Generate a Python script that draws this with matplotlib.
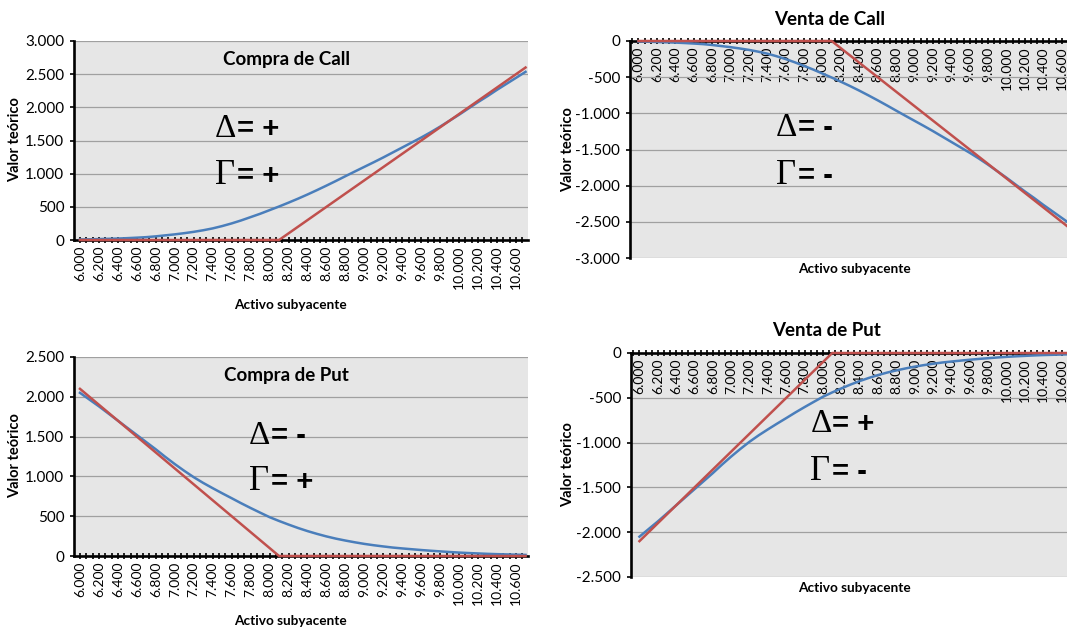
import numpy as np
import matplotlib.pyplot as plt
from matplotlib.ticker import FixedLocator, FuncFormatter

# --------------------------------------------------
# DATOS: precio del activo subyacente (categorias)
# --------------------------------------------------
subyacente = [6000, 6100, 6200, 6300, 6400, 6500, 6600, 6700, 6800, 6900,
              7000, 7100, 7200, 7300, 7400, 7500, 7600, 7700, 7800, 7900,
              8000, 8100, 8200, 8300, 8400, 8500, 8600, 8700, 8800, 8900,
              9000, 9100, 9200, 9300, 9400, 9500, 9600, 9700, 9800, 9900,
              10000, 10100, 10200, 10300, 10400, 10500, 10600, 10700]

# valor teorico de la call (curva azul)
call_teorico = [8, 10, 14, 18, 22, 28, 35, 43, 55, 70,
                85, 103, 123, 147, 175, 210, 250, 295, 345, 395,
                450, 505, 563, 623, 686, 752, 820, 890, 962, 1033,
                1103, 1173, 1245, 1320, 1395, 1470, 1545, 1625, 1710, 1800,
                1890, 1985, 2080, 2170, 2265, 2355, 2445, 2535]

# valor al vencimiento de la call (linea roja)
call_vto = [0, 0, 0, 0, 0, 0, 0, 0, 0, 0,
            0, 0, 0, 0, 0, 0, 0, 0, 0, 0,
            0, 0, 100, 200, 300, 400, 500, 600, 700, 800,
            900, 1000, 1100, 1200, 1300, 1400, 1500, 1600, 1700, 1800,
            1900, 2000, 2100, 2200, 2300, 2400, 2500, 2600]

# valor teorico de la put (curva azul)
put_teorico = [2050, 1965, 1880, 1790, 1700, 1610, 1520, 1430, 1340, 1245,
               1155, 1070, 990, 918, 852, 788, 726, 663, 603, 545,
               488, 440, 395, 352, 313, 278, 246, 218, 194, 172,
               152, 135, 120, 106, 95, 85, 75, 66, 58, 50,
               43, 37, 32, 27, 23, 20, 17, 14]

# valor al vencimiento de la put (linea roja)
put_vto = [2100, 2000, 1900, 1800, 1700, 1600, 1500, 1400, 1300, 1200,
           1100, 1000, 900, 800, 700, 600, 500, 400, 300, 200,
           100, 0, 0, 0, 0, 0, 0, 0, 0, 0,
           0, 0, 0, 0, 0, 0, 0, 0, 0, 0,
           0, 0, 0, 0, 0, 0, 0, 0]

etiquetas_x = [6000, 6200, 6400, 6600, 6800, 7000, 7200, 7400, 7600, 7800,
               8000, 8200, 8400, 8600, 8800, 9000, 9200, 9400, 9600, 9800,
               10000, 10200, 10400, 10600]

AZUL = '#4a7ebb'
ROJO = '#c0504d'
FONDO = '#e6e6e6'
FUENTE = 'Lato'


def miles(v, pos=None):
    return f"{v:,.0f}".replace(',', '.')


fig = plt.figure(figsize=(10.67, 6.3), dpi=100)
W, H = 1067, 630


def caja(x0, x1, ytop, ybot):
    return [x0 / W, (H - ybot) / H, (x1 - x0) / W, (ybot - ytop) / H]


def grafico(rect, xlim, ylim, yticks, azul, rojo, arriba):
    ax = fig.add_axes(rect)
    ax.set_facecolor(FONDO)
    ax.set_xlim(*xlim)
    ax.set_ylim(*ylim)
    ax.set_yticks(yticks)
    ax.yaxis.set_major_formatter(FuncFormatter(miles))
    ax.yaxis.grid(True, color='#a0a0a0', lw=0.9)
    ax.set_axisbelow(True)

    ax.xaxis.set_major_locator(FixedLocator(etiquetas_x))
    ax.xaxis.set_major_formatter(FuncFormatter(miles))
    ax.xaxis.set_minor_locator(FixedLocator(np.arange(6000 - 200 / 3, 10740, 200 / 3)))

    for s in ['top', 'right']:
        ax.spines[s].set_visible(False)
    for s in ['left', 'bottom']:
        ax.spines[s].set_linewidth(1.9)
        ax.spines[s].set_color('black')
    if arriba:
        ax.spines['bottom'].set_position(('data', 0))

    ax.tick_params(axis='x', which='both', direction='inout', length=5,
                   width=1.2, color='black', pad=1.5)
    ax.tick_params(axis='x', which='major', labelrotation=90, labelsize=10)
    ax.tick_params(axis='y', direction='out', length=3, width=1.2,
                   pad=4, labelsize=11)
    for t in ax.get_xticklabels() + ax.get_yticklabels():
        t.set_fontfamily(FUENTE)

    ax.plot(subyacente, azul, color=AZUL, lw=1.8, zorder=3, clip_on=False)
    ax.plot(subyacente, rojo, color=ROJO, lw=1.8, zorder=4, clip_on=False)
    return ax


def griegas(ax, x, x2, y1, y2, d, g):
    ax.text(x, y1, '\u0394', transform=ax.transAxes, fontsize=24,
            family='Liberation Serif', va='baseline', ha='left')
    ax.text(x2, y1, d, transform=ax.transAxes, fontsize=21,
            family='Liberation Sans', weight='bold', va='baseline', ha='left')
    ax.text(x, y2, '\u0393', transform=ax.transAxes, fontsize=25,
            family='Liberation Serif', va='baseline', ha='left')
    ax.text(x2, y2, g, transform=ax.transAxes, fontsize=21,
            family='Liberation Sans', weight='bold', va='baseline', ha='left')


# --------------------------------------------------
# COMPRA DE CALL
# --------------------------------------------------
ax1 = grafico(caja(74, 528, 41, 240), (5937, 10726), (0, 3000),
              [0, 500, 1000, 1500, 2000, 2500, 3000],
              call_teorico, call_vto, False)
ax1.text(0.469, 0.905, 'Compra de Call', transform=ax1.transAxes, ha='center',
         va='center', fontsize=13.5, weight='bold', family=FUENTE)
griegas(ax1, 0.311, 0.358, 0.518, 0.283, '= +', '= +')

# --------------------------------------------------
# VENTA DE CALL
# --------------------------------------------------
ax2 = grafico(caja(630, 1074, 41, 258), (5908, 10734), (-3000, 0),
              [0, -500, -1000, -1500, -2000, -2500, -3000],
              [-v for v in call_teorico], [-v for v in call_vto], True)
fig.text(830 / W, 1 - 19.5 / H, 'Venta de Call', ha='center', va='center',
         fontsize=13.5, weight='bold', family=FUENTE)
griegas(ax2, 0.329, 0.378, 0.562, 0.341, '= -', '= -')

# --------------------------------------------------
# COMPRA DE PUT
# --------------------------------------------------
ax3 = grafico(caja(74, 528, 357, 556), (5937, 10726), (0, 2500),
              [0, 500, 1000, 1500, 2000, 2500],
              put_teorico, put_vto, False)
ax3.text(0.469, 0.908, 'Compra de Put', transform=ax3.transAxes, ha='center',
         va='center', fontsize=13.5, weight='bold', family=FUENTE)
griegas(ax3, 0.385, 0.433, 0.561, 0.330, '= -', '= +')

# --------------------------------------------------
# VENTA DE PUT
# --------------------------------------------------
ax4 = grafico(caja(631, 1074, 353, 577), (5908, 10734), (-2500, 0),
              [0, -500, -1000, -1500, -2000, -2500],
              [-v for v in put_teorico], [-v for v in put_vto], True)
fig.text(827 / W, 1 - 331 / H, 'Venta de Put', ha='center', va='center',
         fontsize=13.5, weight='bold', family=FUENTE)
griegas(ax4, 0.405, 0.453, 0.649, 0.434, '= +', '= -')

# --------------------------------------------------
# ETIQUETAS DE LOS EJES
# --------------------------------------------------
for (x, y) in [(15, 140), (15, 456), (568, 150), (568, 465)]:
    fig.text(x / W, 1 - y / H, 'Valor teórico', rotation=90, ha='center',
             va='center', fontsize=10.5, weight='bold', family=FUENTE)
for (x, y) in [(290, 305), (290, 621), (854, 269), (854, 588)]:
    fig.text(x / W, 1 - y / H, 'Activo subyacente', ha='center',
             va='center', fontsize=9.8, weight='bold', family=FUENTE)

fig.savefig('out.png', dpi=100)
